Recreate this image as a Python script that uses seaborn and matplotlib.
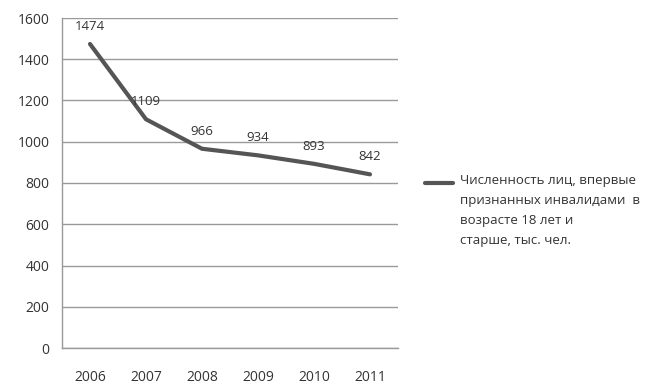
import matplotlib
matplotlib.use("Agg")
import matplotlib.pyplot as plt
from matplotlib.lines import Line2D
import seaborn as sns
import pandas as pd
import numpy as np

years = ["2006", "2007", "2008", "2009", "2010", "2011"]
values = [1474, 1109, 966, 934, 893, 842]
series_label = "Численность лиц, впервые\nпризнанных инвалидами  в\nвозрасте 18 лет и\nстарше, тыс. чел."

df = pd.DataFrame({"pos": np.arange(len(years)), "value": values})

sns.set_style("white")
plt.rcParams['font.family'] = ['Open Sans', 'DejaVu Sans']

fig = plt.figure(figsize=(6.71, 3.89), dpi=100)
ax = fig.add_axes([62 / 671, 41 / 389, 336 / 671, 330 / 389])

sns.lineplot(data=df, x="pos", y="value", ax=ax, color="#555555", linewidth=3)

for x, v in zip(df["pos"], values):
    ax.annotate(str(v), (x, v), xytext=(0, 8), textcoords="offset points",
                ha="center", va="bottom", fontsize=9.5, color="#333333")

ax.set_xlim(-0.5, len(years) - 0.5)
ax.set_ylim(0, 1600)
ax.set_yticks(range(0, 1601, 200))
ax.set_xticks(np.arange(len(years)))
ax.set_xticklabels(years)
ax.set_xticks(np.arange(-0.5, len(years)), minor=True)
ax.tick_params(axis="x", which="major", length=0, pad=16, labelsize=10, labelcolor="#333333")
ax.tick_params(axis="x", which="minor", length=5, color="#999999", direction="out")
ax.tick_params(axis="y", length=5, color="#999999", direction="out", labelsize=10,
               labelcolor="#333333", pad=4)
ax.yaxis.grid(True, color="#9a9a9a", linewidth=1)
ax.set_axisbelow(True)
ax.set_xlabel("")
ax.set_ylabel("")
for side in ["top", "right"]:
    ax.spines[side].set_visible(False)
for side in ["left", "bottom"]:
    ax.spines[side].set_color("#999999")
    ax.spines[side].set_linewidth(1)

# legend, drawn beside the plot
fig.add_artist(Line2D([425 / 671, 453 / 671], [1 - 183 / 389, 1 - 183 / 389],
                      color="#555555", linewidth=3, transform=fig.transFigure))
fig.text(460 / 671, 1 - 174 / 389, series_label, ha="left", va="top",
         fontsize=9.5, color="#333333", linespacing=1.7)

fig.savefig("out.png", dpi=100)
